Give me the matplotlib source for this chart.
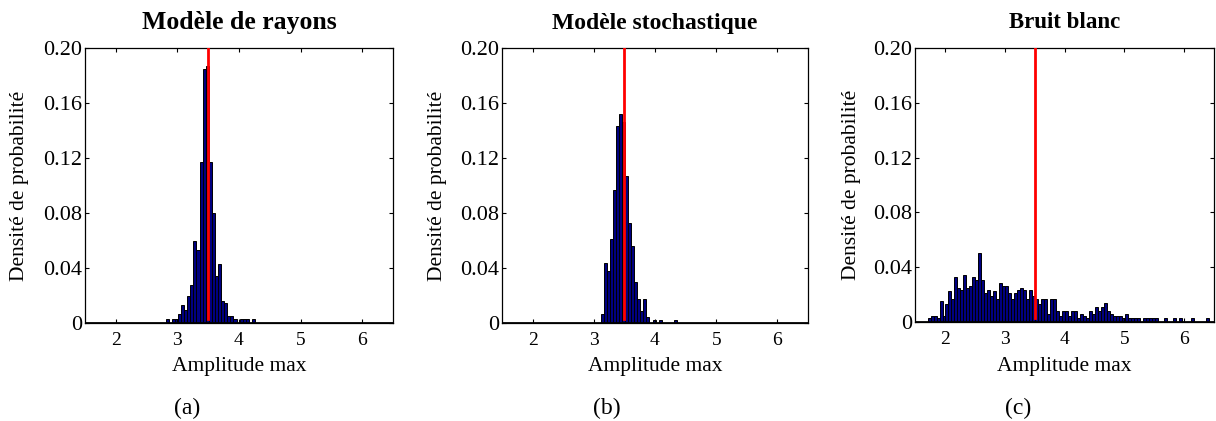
import numpy as np
import matplotlib.pyplot as plt

plt.rcParams['font.family'] = ['Liberation Serif', 'DejaVu Serif']

# Histogrammes de l'amplitude max (densité de probabilité), classes de 0.05
bin_width = 0.05
seuil = 3.5

# (a) Modèle de rayons
rayons_start = 2.81
rayons_density = [0.003, 0, 0.003, 0.003, 0.0065, 0.013, 0.0097, 0.020, 0.028,
                  0.060, 0.053, 0.117, 0.185, 0.187, 0.117, 0.080, 0.034, 0.043,
                  0.016, 0.0145, 0.005, 0.005, 0.003, 0, 0.003, 0.003, 0.003, 0,
                  0.003]

# (b) Modèle stochastique
stoch_start = 3.11
stoch_density = [0.0065, 0.044, 0.038, 0.061, 0.097, 0.143, 0.152, 0.146, 0.107,
                 0.0725, 0.056, 0.030, 0.0175, 0.0085, 0.0175, 0.0045, 0, 0.0025,
                 0, 0.0025, 0, 0, 0, 0, 0.0025]

# (c) Bruit blanc
bruit_start = 1.71
bruit_density = [0.003, 0.0045, 0.0045, 0.003, 0.015, 0.0045, 0.013, 0.0225,
                 0.0165, 0.033, 0.025, 0.023, 0.0345, 0.025, 0.0265, 0.033,
                 0.031, 0.0505, 0.031, 0.021, 0.0235, 0.019, 0.0225, 0.0165,
                 0.0285, 0.026, 0.026, 0.021, 0.0165, 0.021, 0.0235, 0.025,
                 0.0235, 0.0165, 0.0235, 0.019, 0.017, 0.013, 0.0165, 0.0165,
                 0.006, 0.0165, 0.0165, 0.008, 0.0045, 0.008, 0.008, 0.0045,
                 0.008, 0.008, 0.003, 0.006, 0.0045, 0.003, 0.008, 0.006,
                 0.011, 0.008, 0.011, 0.014, 0.008, 0.006, 0.0045, 0.0045,
                 0.0045, 0.003, 0.006, 0.003, 0.003, 0.003, 0.003, 0, 0.003,
                 0.003, 0.003, 0.003, 0.003, 0, 0, 0.003, 0, 0, 0.003, 0,
                 0.003, 0, 0, 0, 0.003, 0, 0, 0, 0, 0.003]

titles = ['Modèle de rayons', 'Modèle stochastique', 'Bruit blanc']
title_sizes = [18.5, 17, 16.5]
captions = ['(a)', '(b)', '(c)']
yticks = [0, 0.04, 0.08, 0.12, 0.16, 0.20]
ytick_labels = ['0', '0.04', '0.08', '0.12', '0.16', '0.20']
xticks = [2, 3, 4, 5, 6]

W, H = 1216, 421
fig = plt.figure(figsize=(W / 100, H / 100), dpi=100)

# boites des axes en pixels : gauche, haut, droite, bas
boxes = [(85, 48, 393, 323), (502, 48, 808, 323), (915, 48, 1214, 322)]
caption_x = [187, 607, 1018]
data = [(rayons_start, rayons_density), (stoch_start, stoch_density),
        (bruit_start, bruit_density)]

for i, (l, t, r, b) in enumerate(boxes):
    ax = fig.add_axes([l / W, 1 - b / H, (r - l) / W, (b - t) / H])
    start, dens = data[i]
    x = start + bin_width * np.arange(len(dens))
    ax.bar(x, dens, width=bin_width, align='edge', color='#000080',
           edgecolor='black', linewidth=0.7)
    ax.axhline(0, color='black', lw=2)
    ax.plot([seuil, seuil], [0.003, 0.2], color='red', lw=2.0, zorder=4)
    ax.set_xlim(1.5, 6.5)
    ax.set_ylim(0, 0.2)
    ax.set_xticks(xticks)
    ax.set_yticks(yticks)
    ax.set_yticklabels(ytick_labels)
    ax.tick_params(direction='in', top=True, right=True, length=3, width=0.8)
    ax.tick_params(axis='x', labelsize=14, pad=6.5)
    ax.tick_params(axis='y', labelsize=16, pad=2)
    for s in ax.spines.values():
        s.set_linewidth(0.9)
    ax.set_xlabel('Amplitude max', fontsize=15.5)
    ax.xaxis.set_label_coords(0.5, (b - 367) / (b - t))
    ax.xaxis.label.set_va('center')
    ax.set_ylabel('Densité de probabilité', fontsize=15.5)
    ax.yaxis.set_label_coords(-0.212, 0.5)
    ax.yaxis.label.set_va('center')
    fig.text((l + r) / 2 / W, 1 - 23 / H, titles[i], fontsize=title_sizes[i],
             fontweight='bold', ha='center', va='center')
    fig.text(caption_x[i] / W, 1 - 408 / H, captions[i], fontsize=17,
             ha='center', va='center')

plt.savefig('out.png', dpi=100)
